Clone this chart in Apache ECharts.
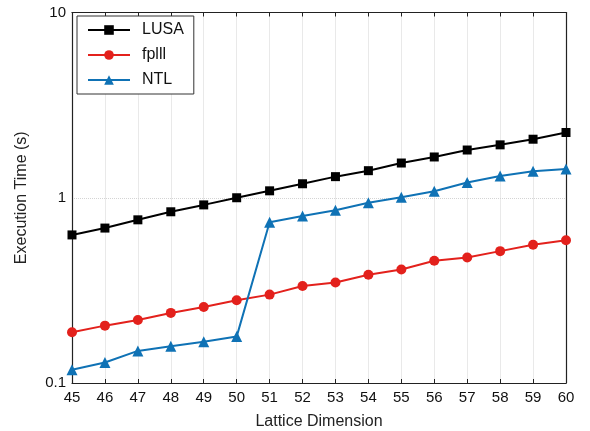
<!DOCTYPE html>
<html>
<head>
<meta charset="utf-8">
<script src="https://cdn.jsdelivr.net/npm/echarts@6/dist/echarts.min.js"></script>
<style>
  html, body { margin: 0; padding: 0; background: #fff; }
  #main { width: 590px; height: 431px; }
</style>
</head>
<body>
<div id="main"></div>
<script>
// lattice dimensions on the x axis
const dims = ['45', '46', '47', '48', '49', '50', '51', '52', '53', '54', '55', '56', '57', '58', '59', '60'];
// execution time (s)
const lusa  = [0.63, 0.686, 0.76, 0.84, 0.915, 1.0, 1.09, 1.19, 1.30, 1.40, 1.54, 1.66, 1.81, 1.93, 2.07, 2.25];
const fplll = [0.188, 0.204, 0.219, 0.239, 0.257, 0.280, 0.300, 0.334, 0.349, 0.384, 0.410, 0.457, 0.476, 0.515, 0.557, 0.590];
const ntl   = [0.118, 0.129, 0.149, 0.158, 0.167, 0.178, 0.738, 0.798, 0.857, 0.939, 1.007, 1.085, 1.21, 1.31, 1.39, 1.43];
// log ticks, decades plus 2..9
const logTicks = [0.1, 0.2, 0.3, 0.4, 0.5, 0.6, 0.7, 0.8, 0.9, 1, 2, 3, 4, 5, 6, 7, 8, 9, 10];

const font = 'Liberation Sans, Arial, sans-serif';
const axisLine = { show: true, lineStyle: { color: '#222', width: 1.2 } };
const gridLine = { show: true, lineStyle: { color: '#d4d4d4', type: 'dotted', width: 1 } };

const chart = echarts.init(document.getElementById('main'));

function mkSeries(name, data, color, symbol, size) {
  return {
    name: name,
    type: 'line',
    data: data,
    symbol: symbol,
    symbolSize: size,
    lineStyle: { color: color, width: 2 },
    itemStyle: { color: color },
    animation: false
  };
}

chart.setOption({
  backgroundColor: '#fff',
  textStyle: { fontFamily: font },
  grid: { left: 72, right: 24, top: 12.5, bottom: 48, outerBoundsMode: 'none', containLabel: false },
  legend: {
    orient: 'vertical',
    left: 77, top: 16,
    backgroundColor: '#fff',
    borderColor: '#333', borderWidth: 1, borderRadius: 0,
    padding: [6, 10, 6, 10],
    itemWidth: 42, itemHeight: 12, itemGap: 9,
    textStyle: { fontFamily: font, fontSize: 16, color: '#111', padding: [0, 0, 0, 7] },
    data: ['LUSA', 'fplll', 'NTL']
  },
  xAxis: [{
    type: 'category',
    data: dims,
    boundaryGap: false,
    name: 'Lattice Dimension',
    nameLocation: 'middle',
    nameGap: 31,
    nameTextStyle: { fontFamily: font, fontSize: 16, color: '#222' },
    axisLine: axisLine,
    axisTick: { inside: true, length: 4, lineStyle: { color: '#222' } },
    axisLabel: { fontFamily: font, fontSize: 15, color: '#111', margin: 7 },
    splitLine: gridLine
  }, {
    type: 'category',
    data: dims,
    boundaryGap: false,
    position: 'top',
    axisLine: axisLine,
    axisTick: { inside: true, length: 4, lineStyle: { color: '#222' } },
    axisLabel: { show: false },
    splitLine: { show: false }
  }],
  yAxis: [{
    type: 'log',
    logBase: 10,
    min: 0.1, max: 10,
    name: 'Execution Time (s)',
    nameLocation: 'middle',
    nameGap: 42,
    nameTextStyle: { fontFamily: font, fontSize: 16, color: '#222' },
    axisLine: axisLine,
    axisTick: { inside: true, length: 4, customValues: logTicks, lineStyle: { color: '#222' } },
    axisLabel: { fontFamily: font, fontSize: 15, color: '#111', margin: 6 },
    splitLine: { show: false }
  }, {
    type: 'log',
    logBase: 10,
    min: 0.1, max: 10,
    position: 'right',
    axisLine: axisLine,
    axisTick: { inside: true, length: 4, customValues: logTicks, lineStyle: { color: '#222' } },
    axisLabel: { show: false },
    splitLine: { show: false }
  }, {
    // decade grid lines only
    type: 'log',
    logBase: 10,
    min: 0.1, max: 10,
    position: 'left',
    axisLine: { show: false },
    axisTick: { show: false },
    axisLabel: { show: false },
    splitLine: gridLine
  }],
  series: [
    mkSeries('LUSA', lusa, '#000000', 'rect', 9),
    mkSeries('fplll', fplll, '#e3211c', 'circle', 10),
    mkSeries('NTL', ntl, '#0f72b5', 'triangle', 11)
  ]
});
</script>
</body>
</html>
